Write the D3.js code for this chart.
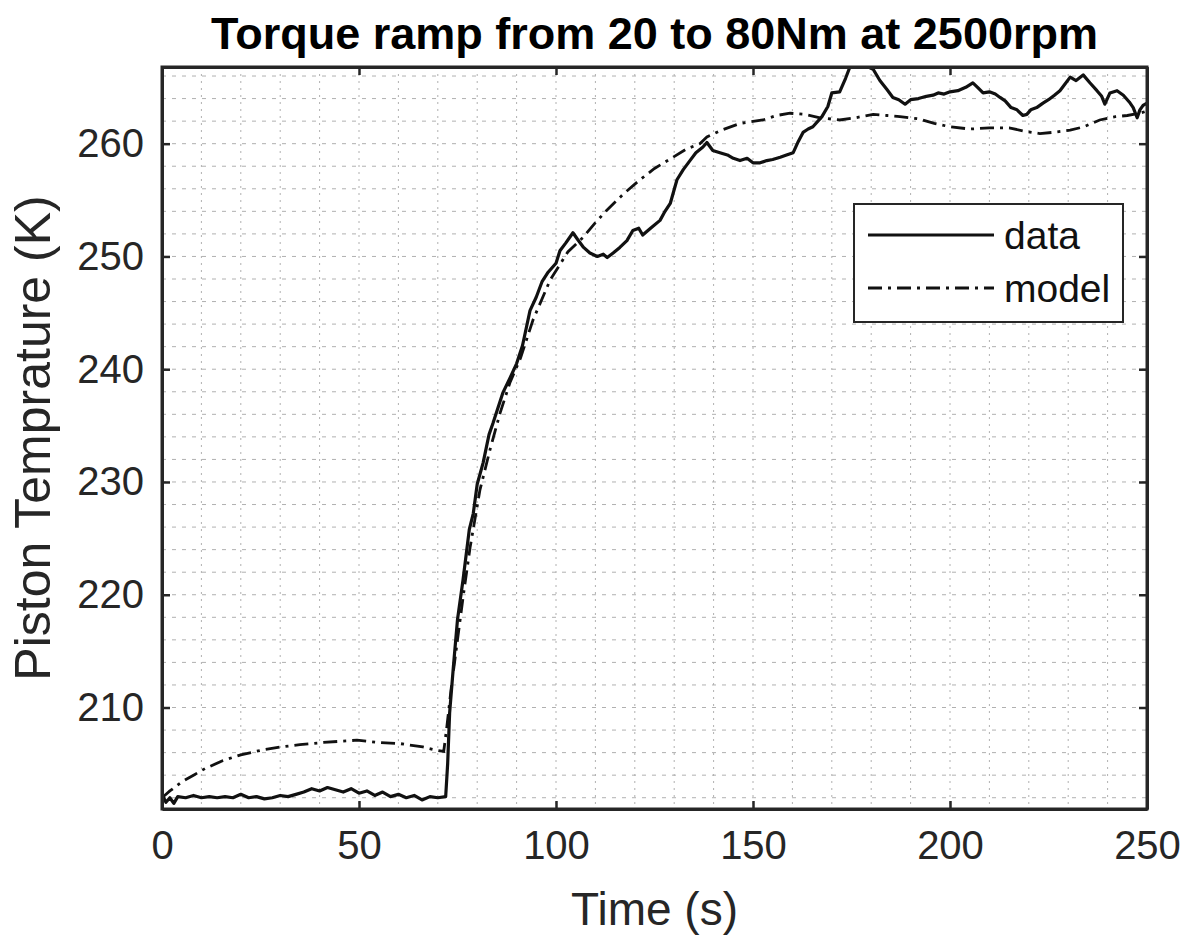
<!doctype html>
<html lang="en">
<head>
<meta charset="utf-8">
<title>Torque ramp</title>
<script src="https://cdn.jsdelivr.net/npm/d3@7"></script>
<style>
  body { margin: 0; background: #fff; }
  text { font-family: "Liberation Sans", Arial, sans-serif; }
</style>
</head>
<body>
<script>

// Data
var dataT = [0, 1, 2, 3, 4, 6, 8, 10, 12, 14, 16, 18, 20, 22, 24, 26, 28, 30, 32, 34,
  36, 38, 40, 42, 44, 46, 48, 50, 52, 54, 56, 58, 60, 62, 64, 66, 68, 70, 72,
  72.5, 73, 74, 75, 76.4, 78, 79, 80, 81.5, 83, 84, 86.5, 88.3, 90, 91.5, 93.4,
  95, 96.5, 98, 100, 101, 102.5, 104.3, 105.5, 107, 108.6, 110.5, 112, 113,
  114.5, 116.2, 118, 119.5, 121, 122, 124, 126.4, 127.5, 129, 130.7, 132.3, 134,
  135.5, 137.3, 138.3, 139.8, 141.6, 143.5, 145, 146.7, 148.5, 150, 151.8, 153.5,
  155, 156.9, 158.5, 160.2, 161.5, 162.7, 164, 165.2, 167.5, 169, 170, 172,
  173.5, 174.6, 176, 178, 180.5, 182.2, 184, 185.5, 187, 188.6, 190, 192, 194,
  195.7, 197, 198.5, 200, 202, 204, 205.8, 207, 208.4, 210, 211.5, 212.7, 214,
  215.5, 217, 218.5, 219.5, 220.5, 222, 223.6, 225, 226.5, 227.9, 229, 230.5,
  232, 233.8, 235.5, 237.3, 238.5, 239.3, 240.6, 242.4, 244, 245.5, 246.5,
  247.5, 248.2, 249, 250];
var dataY = [202.3, 201.6, 202.0, 201.5, 202.1, 202.0, 202.2, 202.0, 202.1, 202.0,
  202.1, 202.0, 202.3, 202.0, 202.1, 201.9, 202.0, 202.2, 202.1, 202.3,
  202.5, 202.8, 202.6, 202.9, 202.7, 202.5, 202.8, 202.4, 202.6, 202.2,
  202.5, 202.1, 202.3, 202.0, 202.2, 201.8, 202.1, 202.0, 202.1,
  205.0, 209.5, 213.8, 217.8, 221.3, 225.8, 227.2, 229.8, 231.7, 234.2, 235.2,
  237.9, 239.2, 240.5, 242.1, 245.2, 246.4, 247.8, 248.6, 249.4, 250.5, 251.2,
  252.1, 251.5, 250.8, 250.3, 250.0, 250.2, 249.9, 250.3, 250.8, 251.4, 252.3,
  252.5, 251.9, 252.5, 253.2, 253.9, 254.7, 256.8, 257.7, 258.5, 259.2, 259.7,
  260.1, 259.4, 259.2, 259.0, 258.7, 258.5, 258.7, 258.3, 258.3, 258.5, 258.6,
  258.8, 259.0, 259.2, 260.2, 261.0, 261.3, 261.5, 262.4, 263.3, 264.5, 264.6,
  265.8, 266.8, 266.9, 267.0, 266.6, 265.6, 264.8, 264.1, 263.9, 263.5, 263.9,
  264.0, 264.2, 264.3, 264.5, 264.4, 264.6, 264.7, 265.0, 265.4, 265.0, 264.5,
  264.6, 264.4, 264.1, 263.8, 263.2, 263.0, 262.5, 262.6, 263.0, 263.2, 263.6,
  263.9, 264.3, 264.7, 265.2, 265.9, 265.6, 266.1, 265.4, 264.7, 264.2, 263.5,
  264.5, 264.7, 264.3, 263.7, 263.2, 262.3, 263.0, 263.4, 263.6];

var modelT = [0, 2, 5, 8, 11, 15.5, 20, 25, 30, 35, 41, 45, 49.5, 55, 60.4, 66.2,
  69.8, 71.5, 72.3, 73.5, 75, 76.5, 78.2, 80.7, 83.2, 85.8, 88.3, 91, 94.2,
  98.5, 103, 106.9, 110, 112.9, 117, 121.3, 125, 129.7, 133, 136.5, 138.3, 142,
  146.7, 152.5, 156, 159.4, 163, 167, 172, 176, 180.5, 184, 187.3, 192, 196,
  200, 205, 210, 215, 219, 222.8, 226, 230.5, 234, 238, 242, 245, 248.2, 250];
var modelY = [202.0, 202.6, 203.4, 204.0, 204.6, 205.3, 205.8, 206.2, 206.5, 206.7,
  206.9, 207.0, 207.1, 206.9, 206.8, 206.5, 206.2, 206.1, 208.3, 212.0, 216.0,
  220.0, 224.2, 229.3, 232.8, 236.1, 238.8, 241.0, 244.4, 247.9, 250.4, 251.7,
  253.0, 254.1, 255.5, 256.8, 257.8, 258.8, 259.5, 260.0, 260.6, 261.2, 261.8,
  262.1, 262.5, 262.7, 262.6, 262.3, 262.1, 262.3, 262.6, 262.5, 262.4, 262.2,
  261.8, 261.5, 261.3, 261.4, 261.4, 261.1, 260.9, 261.0, 261.2, 261.5, 262.1,
  262.4, 262.5, 262.7, 262.9];

var xTicks = [0, 50, 100, 150, 200, 250];
var yTicks = [210, 220, 230, 240, 250, 260];
var seriesNames = ["data", "model"];

var titleText = "Torque ramp from 20 to 80Nm at 2500rpm";
var xLabel = "Time (s)";
var yLabel = "Piston Temprature (K)";

// Layout
var W = 1190, H = 943;
var margin = {top: 67, right: 43, bottom: 134, left: 162};
var width = W - margin.left - margin.right;
var height = H - margin.top - margin.bottom;
var axisColor = "#262626";

var svg = d3.select("body").append("svg")
  .attr("width", W)
  .attr("height", H);

var g = svg.append("g")
  .attr("transform", "translate(" + margin.left + "," + margin.top + ")");

var x = d3.scaleLinear().domain([0, 250]).range([0, width]);
var y = d3.scaleLinear().domain([201, 266.8]).range([height, 0]);

// minor grid (dotted)
g.append("g").selectAll("line")
  .data(d3.range(10, 250, 10))
  .enter().append("line")
    .attr("x1", function(d) { return x(d); })
    .attr("x2", function(d) { return x(d); })
    .attr("y1", 0).attr("y2", height)
    .attr("stroke", "#b0b0b0")
    .attr("stroke-width", 1)
    .attr("stroke-dasharray", "2,5");

g.append("g").selectAll("line")
  .data(d3.range(202, 267, 2))
  .enter().append("line")
    .attr("y1", function(d) { return y(d); })
    .attr("y2", function(d) { return y(d); })
    .attr("x1", 0).attr("x2", width)
    .attr("stroke", "#b0b0b0")
    .attr("stroke-width", 1)
    .attr("stroke-dasharray", "4,6");

// clip for lines
svg.append("defs").append("clipPath").attr("id", "clip")
  .append("rect").attr("width", width).attr("height", height);

var line = d3.line()
  .x(function(d) { return x(d[0]); })
  .y(function(d) { return y(d[1]); });

var dataPts = dataT.map(function(t, i) { return [t, dataY[i]]; });
var modelPts = modelT.map(function(t, i) { return [t, modelY[i]]; });

var lines = g.append("g").attr("clip-path", "url(#clip)");

lines.append("path")
  .datum(modelPts)
  .attr("d", line)
  .attr("fill", "none")
  .attr("stroke", "#111")
  .attr("stroke-width", 2.8)
  .attr("stroke-dasharray", "14,6,3,6");

lines.append("path")
  .datum(dataPts)
  .attr("d", line)
  .attr("fill", "none")
  .attr("stroke", "#111")
  .attr("stroke-width", 3.2)
  .attr("stroke-linejoin", "round");

// Axes (ticks inward, box on all sides)
var tickLen = 8;
var xAxisB = d3.axisBottom(x).tickValues(xTicks).tickSizeInner(-tickLen).tickSizeOuter(0).tickPadding(22);
var xAxisT = d3.axisTop(x).tickValues(xTicks).tickSizeInner(-tickLen).tickSizeOuter(0).tickFormat("");
var yAxisL = d3.axisLeft(y).tickValues(yTicks).tickSizeInner(-tickLen).tickSizeOuter(0).tickPadding(18);
var yAxisR = d3.axisRight(y).tickValues(yTicks).tickSizeInner(-tickLen).tickSizeOuter(0).tickFormat("");

var axes = [
  g.append("g").attr("transform", "translate(0," + height + ")").call(xAxisB),
  g.append("g").call(xAxisT),
  g.append("g").call(yAxisL),
  g.append("g").attr("transform", "translate(" + width + ",0)").call(yAxisR)
];
axes.forEach(function(a) {
  a.select(".domain").attr("stroke", axisColor).attr("stroke-width", 3);
  a.selectAll(".tick line").attr("stroke", axisColor).attr("stroke-width", 2.5);
  a.selectAll("text")
    .attr("fill", axisColor)
    .style("font-size", "40px")
    .style("font-family", "'Liberation Sans', Arial, sans-serif");
});
// clean corners
g.append("rect")
  .attr("width", width).attr("height", height)
  .attr("fill", "none")
  .attr("stroke", axisColor).attr("stroke-width", 3);

// Title and labels
svg.append("text")
  .attr("x", margin.left + width / 2)
  .attr("y", 49)
  .attr("text-anchor", "middle")
  .style("font-size", "45px")
  .style("font-weight", "bold")
  .attr("fill", "#000")
  .text(titleText);

svg.append("text")
  .attr("x", margin.left + width / 2)
  .attr("y", 925)
  .attr("text-anchor", "middle")
  .style("font-size", "46px")
  .attr("fill", axisColor)
  .text(xLabel);

svg.append("text")
  .attr("transform", "translate(50," + (margin.top + height / 2) + ") rotate(-90)")
  .attr("text-anchor", "middle")
  .style("font-size", "50px")
  .attr("fill", axisColor)
  .text(yLabel);

// Legend
var legend = g.append("g").attr("transform", "translate(" + (854 - margin.left) + "," + (204 - margin.top) + ")");
legend.append("rect")
  .attr("width", 269).attr("height", 118)
  .attr("fill", "#fff")
  .attr("stroke", axisColor).attr("stroke-width", 2);

var legendDash = [null, "14,6,3,6"];
seriesNames.forEach(function(name, i) {
  var ly = 31 + i * 53;
  legend.append("line")
    .attr("x1", 14).attr("x2", 140)
    .attr("y1", ly).attr("y2", ly)
    .attr("stroke", "#111").attr("stroke-width", 2.8)
    .attr("stroke-dasharray", legendDash[i]);
  legend.append("text")
    .attr("x", 150).attr("y", ly + 14)
    .style("font-size", "39px")
    .attr("fill", "#111")
    .text(name);
});

</script>
</body>
</html>
